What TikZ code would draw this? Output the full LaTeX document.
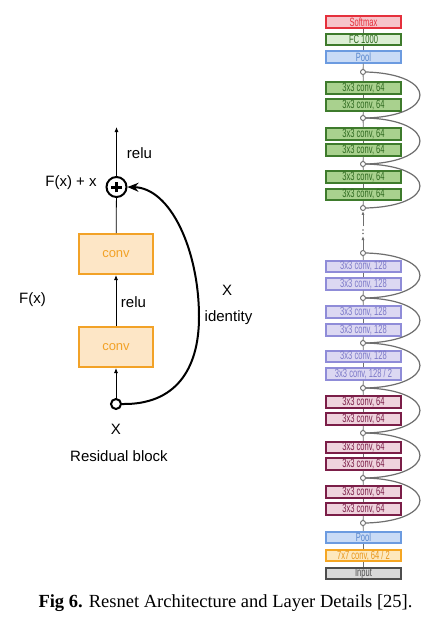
\documentclass[tikz,border=0pt]{standalone}
\usepackage{fontspec}
\setmainfont{Liberation Serif}
\newfontfamily\arialf{Liberation Sans}
\newfontfamily\narrowf[FakeStretch=0.63]{Liberation Sans}
\usetikzlibrary{arrows.meta}
\definecolor{cOr}{HTML}{F2A227}
\definecolor{cOrF}{HTML}{FDE6C6}
\definecolor{cRed}{HTML}{E5303C}
\definecolor{cRedF}{HTML}{F6C4CA}
\definecolor{cGr}{HTML}{3E7B2C}
\definecolor{cGrT}{HTML}{2F6A20}
\definecolor{cGrF}{HTML}{A9D18E}
\definecolor{cGrL}{HTML}{DDEFD5}
\definecolor{cBl}{HTML}{6C9BE0}
\definecolor{cBlT}{HTML}{5584CC}
\definecolor{cBlF}{HTML}{C9DBF6}
\definecolor{cPu}{HTML}{8F8CD8}
\definecolor{cPuT}{HTML}{7C79C8}
\definecolor{cPuF}{HTML}{DCD8F2}
\definecolor{cMa}{HTML}{7B1E48}
\definecolor{cMaF}{HTML}{EFD3DD}
\definecolor{cYe}{HTML}{F5A623}
\definecolor{cYeT}{HTML}{E8961A}
\definecolor{cYeF}{HTML}{FDE8BE}
\definecolor{cIn}{HTML}{4D4D4D}
\definecolor{cInF}{HTML}{D9D9D9}
\definecolor{cArc}{HTML}{6E6E6E}
\tikzset{
  lbl/.style={inner sep=0pt, font=\arialf\fontsize{15}{17}\selectfont},
  convbox/.style={draw=cOr, fill=cOrF, line width=2pt, minimum width=74pt, minimum height=40pt, inner sep=0pt, text=cOr, font=\arialf\fontsize{13}{15}\selectfont},
  thinarrow/.style={line width=0.8pt, -{Latex[length=5pt,width=4pt]}},
  blk/.style={draw, line width=1.8pt, minimum width=75.2pt, minimum height=11.3pt, inner sep=0pt, font=\narrowf\fontsize{12}{12}\selectfont},
  smx/.style={blk, draw=cRed, fill=cRedF, text=cRed},
  fcb/.style={blk, draw=cGr, fill=cGrL, text=cGrT},
  poolb/.style={blk, draw=cBl, fill=cBlF, text=cBlT},
  gconv/.style={blk, draw=cGr, fill=cGrF, text=cGrT},
  pconv/.style={blk, draw=cPu, fill=cPuF, text=cPuT},
  mconv/.style={blk, draw=cMa, fill=cMaF, text=cMa},
  yconv/.style={blk, draw=cYe, fill=cYeF, text=cYeT},
  inb/.style={blk, draw=cIn, fill=cInF, text=cIn},
  knot/.style={circle, draw=cArc, fill=white, line width=0.9pt, minimum size=5pt, inner sep=0pt},
  colline/.style={draw=cArc, line width=0.8pt},
  skip/.style={draw=cArc, line width=1.2pt},
}
\begin{document}
\begin{tikzpicture}[x=1pt,y=-1pt]
\useasboundingbox (0,0) rectangle (445,637);
\fill[white] (0,0) rectangle (445,637);

% ---------------- left: residual block ----------------
\node[circle, draw, line width=2pt, fill=white, minimum size=20pt, inner sep=0pt] (plus) at (116.5,187) {};
\draw[line width=3pt] ([xshift=-5.3pt]plus.center) -- ([xshift=5.3pt]plus.center);
\draw[line width=3pt] ([yshift=-5.3pt]plus.center) -- ([yshift=5.3pt]plus.center);
\node[convbox] (conv1) at (116,254) {conv};
\node[convbox] (conv2) at (116,347) {conv};
\node[circle, draw, line width=2pt, fill=white, minimum size=10pt, inner sep=0pt] (xin) at (116,404) {};
\coordinate (outtop) at (116.5,127);
\coordinate (mid) at (199,317);

\draw[thinarrow] (xin) -- (conv2);
\draw[thinarrow] (conv2) -- (conv1);
\draw[line width=0.8pt] (conv1) -- (plus);
\draw[thinarrow] (plus) -- (outtop);
\draw[line width=2pt, -{Stealth[length=11pt,width=9pt]}]
  (xin.east) .. controls +(53,1) and +(0,53) .. (mid)
  .. controls +(0,-67) and +(43,1) .. (plus.east);

\node[lbl] (relu1) at (139.5,153) {relu};
\node[lbl] (fxx) at (71,183) {F(x) + x};
\node[lbl] (fx) at (32.5,300) {F(x)};
\node[lbl] (relu2) at (133.5,302) {relu};
\node[lbl] (xid) at (227,290) {X};
\node[lbl] (ident) at (228.5,318) {identity};
\node[lbl] (xlab) at (116,429) {X};
\node[lbl] (rb) at (119,456) {Residual block};

% ---------------- right: ResNet column ----------------
\node[smx] (softmax) at (363.5,22) {Softmax};
\node[fcb] (fc) at (363.5,39.5) {FC 1000};
\node[poolb] (poolB) at (363.5,57) {Pool};
\node[knot] (k72) at (363,72) {};
\node[gconv] (g1) at (363.5,88) {3x3 conv, 64};
\node[gconv] (g2) at (363.5,105) {3x3 conv, 64};
\node[knot] (k118) at (363,118) {};
\node[gconv] (g3) at (363.5,134) {3x3 conv, 64};
\node[gconv] (g4) at (363.5,150) {3x3 conv, 64};
\node[knot] (k164) at (363,164) {};
\node[gconv] (g5) at (363.5,177) {3x3 conv, 64};
\node[gconv] (g6) at (363.5,194.5) {3x3 conv, 64};
\node[knot] (k208) at (363,208) {};

\node[knot] (k253) at (363,253) {};
\node[pconv] (p1) at (363.5,266.5) {3x3 conv, 128};
\node[pconv] (p2) at (363.5,284) {3x3 conv, 128};
\node[knot] (k298) at (363,298) {};
\node[pconv] (p3) at (363.5,312) {3x3 conv, 128};
\node[pconv] (p4) at (363.5,330) {3x3 conv, 128};
\node[knot] (k343) at (363,343) {};
\node[pconv] (p5) at (363.5,356.5) {3x3 conv, 128};
\node[pconv] (p6) at (363.5,374) {3x3 conv, 128 / 2};
\node[knot] (k388) at (363,388) {};
\node[mconv] (m1) at (363.5,402) {3x3 conv, 64};
\node[mconv] (m2) at (363.5,419) {3x3 conv, 64};
\node[knot] (k433) at (363,433) {};
\node[mconv] (m3) at (363.5,447.5) {3x3 conv, 64};
\node[mconv] (m4) at (363.5,464) {3x3 conv, 64};
\node[knot] (k478) at (363,478) {};
\node[mconv] (m5) at (363.5,492) {3x3 conv, 64};
\node[mconv] (m6) at (363.5,509) {3x3 conv, 64};
\node[knot] (k523) at (363,523) {};
\node[poolb] (poolA) at (363.5,537.5) {Pool};
\node[yconv] (c7) at (363.5,555.5) {7x7 conv, 64 / 2};
\node[inb] (inp) at (363.5,573.5) {Input};

\foreach \a/\b in {inp/c7, c7/poolA, poolA/k523, k523/m6, m6/m5, m5/k478, k478/m4, m4/m3, m3/k433, k433/m2, m2/m1, m1/k388, k388/p6, p6/p5, p5/k343, k343/p4, p4/p3, p3/k298, k298/p2, p2/p1, p1/k253, k208/g6, g6/g5, g5/k164, k164/g4, g4/g3, g3/k118, k118/g2, g2/g1, g1/k72, k72/poolB, poolB/fc, fc/softmax}
  \draw[colline] (\a) -- (\b);

% dotted gap
\coordinate (tipA) at (363,236);
\coordinate (tailB) at (363,226);
\draw[colline, -{Latex[length=4pt,width=3pt]}] (k253) -- (tipA);
\draw[colline, -{Latex[length=4pt,width=3pt]}] (tailB) -- (k208);
\fill[cArc] (363,230) circle (0.8pt) (363,233.5) circle (0.8pt);

% skip connections
\foreach \a/\b in {k72/k118, k118/k164, k164/k208, k253/k298, k298/k343, k343/k388, k388/k433, k433/k478, k478/k523}
  \draw[skip] (\a.east) .. controls +(72,2) and +(72,-2) .. (\b.east);

% ---------------- caption ----------------
\node[inner sep=0pt, font=\fontsize{18.5}{20}\selectfont] (cap) at (225.5,603) {\textbf{Fig 6.} Resnet Architecture and Layer Details [25].};
\end{tikzpicture}
\end{document}
